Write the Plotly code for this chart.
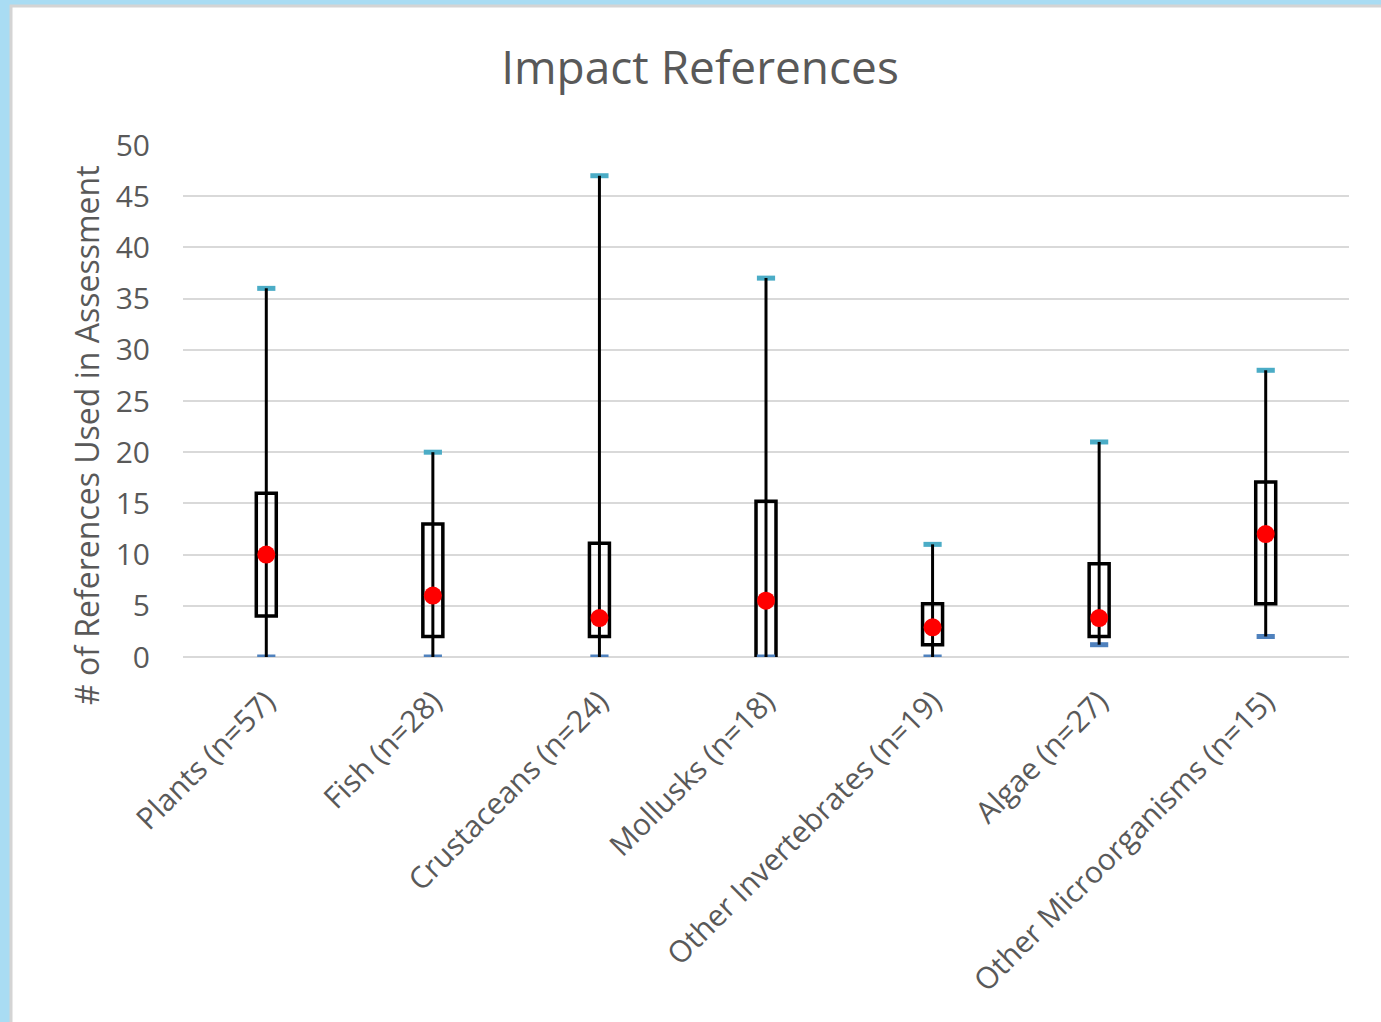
import plotly.graph_objects as go

# ---------------- data ----------------
categories = ["Plants (n=57)", "Fish (n=28)", "Crustaceans (n=24)", "Mollusks (n=18)",
              "Other Invertebrates (n=19)", "Algae (n=27)", "Other Microorganisms (n=15)"]
min_vals = [0, 0, 0, 0, 0, 1.2, 2]
q1_vals = [4, 2, 2, 0, 1.2, 2, 5.2]
median_vals = [10, 6, 3.8, 5.5, 2.9, 3.8, 12]
q3_vals = [16, 13, 11.1, 15.2, 5.2, 9.1, 17.1]
max_vals = [36, 20, 47, 37, 11, 21, 28]
y_ticks = [0, 5, 10, 15, 20, 25, 30, 35, 40, 45, 50]
y_title = "# of References Used in Assessment"

# ---------------- layout constants ----------------
W, H = 1381, 1022
ML, MR, MT, MB = 183, 32, 145, 365
PW, PH = W - ML - MR, H - MT - MB
TXT = "#595959"
GRID = "#d9d9d9"
FONT = "Open Sans"


def px_x(p):
    return (p - ML) / PW


def px_y(p):
    return (H - MB - p) / PH


xs = list(range(len(categories)))

fig = go.Figure()

# min / max markers
fig.add_trace(go.Scatter(
    x=xs, y=max_vals, mode="markers",
    marker=dict(symbol="line-ew", size=13, line=dict(color="#4bacc6", width=5)),
    showlegend=False, hoverinfo="y"))
fig.add_trace(go.Scatter(
    x=xs, y=min_vals, mode="markers",
    marker=dict(symbol="line-ew", size=13, line=dict(color="#4f81bd", width=5)),
    showlegend=False, hoverinfo="y"))

# whiskers
wx, wy = [], []
for i in xs:
    wx += [i, i, None]
    wy += [min_vals[i], max_vals[i], None]
fig.add_trace(go.Scatter(x=wx, y=wy, mode="lines",
                         line=dict(color="black", width=3),
                         showlegend=False, hoverinfo="skip"))

# boxes (Q1..Q3)
fig.add_trace(go.Bar(
    x=xs, y=[q3 - q1 for q1, q3 in zip(q1_vals, q3_vals)], base=q1_vals,
    width=0.12, marker=dict(color="rgba(0,0,0,0)", line=dict(color="black", width=3.5)),
    showlegend=False, hoverinfo="skip"))

# median dots
fig.add_trace(go.Scatter(
    x=xs, y=median_vals, mode="markers",
    marker=dict(symbol="circle", size=18, color="#ff0000"),
    showlegend=False, hoverinfo="y"))

fig.update_layout(
    width=W, height=H,
    margin=dict(l=ML, r=MR, t=MT, b=MB),
    paper_bgcolor="#a9dcf3",
    plot_bgcolor="white",
    barmode="overlay",
    font=dict(family=FONT, color=TXT),
    title=dict(text="Impact References", x=700 / W, xref="container", xanchor="center",
               y=1 - 68 / H, yref="container", yanchor="middle",
               font=dict(family=FONT, size=46, color=TXT)),
    shapes=[dict(type="rect", xref="paper", yref="paper",
                 x0=px_x(11), x1=px_x(W + 10), y0=px_y(H + 10), y1=px_y(6),
                 fillcolor="white", line=dict(color="#d4d4d4", width=3), layer="below")],
    annotations=[dict(text=y_title, textangle=-90, xref="paper", yref="paper",
                      x=px_x(86), y=px_y(435), xanchor="center", yanchor="middle",
                      showarrow=False, font=dict(family=FONT, size=32, color=TXT))],
)

fig.update_xaxes(
    range=[-0.5, len(categories) - 0.5],
    tickmode="array", tickvals=xs, ticktext=categories,
    tickangle=-45, tickfont=dict(family=FONT, size=30, color=TXT),
    ticks="", ticklabelstandoff=20,
    showgrid=False, zeroline=False, showline=False)

fig.update_yaxes(
    range=[0, 50], tickmode="array", tickvals=y_ticks,
    tickfont=dict(family=FONT, size=30, color=TXT),
    ticks="", ticklabelstandoff=32,
    showgrid=True, gridcolor=GRID, gridwidth=2,
    zeroline=True, zerolinecolor=GRID, zerolinewidth=2, showline=False)

fig.write_html("out.html", config={"displayModeBar": False},
               post_script="document.body.style.margin='0';document.body.style.overflow='hidden';")
